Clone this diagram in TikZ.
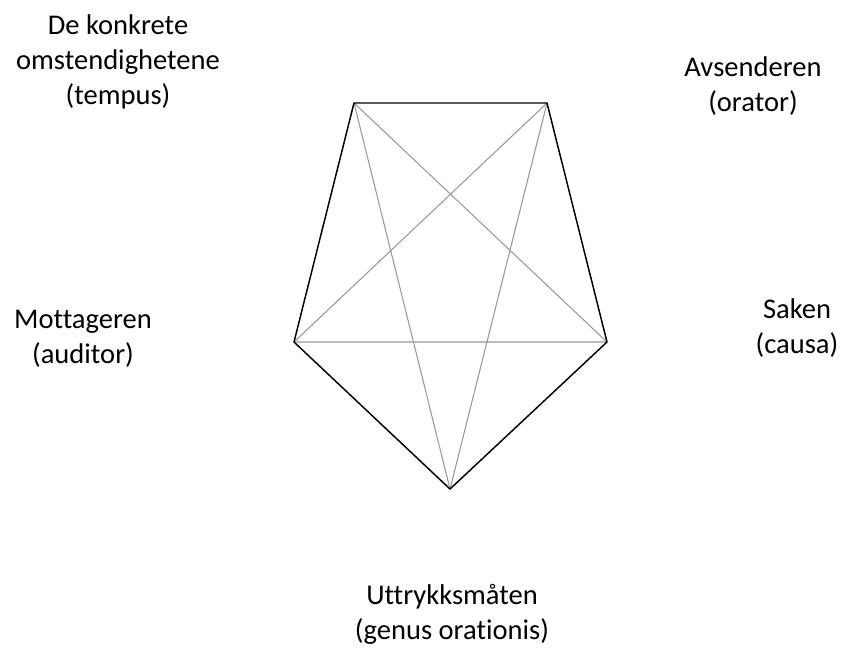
\documentclass[tikz,border=0pt]{standalone}
\usepackage{fontspec}
\setmainfont{Carlito}[Ligatures=NoCommon]
\usetikzlibrary{positioning}
\definecolor{diag}{HTML}{9A9A9A}
\tikzset{
  lbl/.style={align=center,inner sep=0pt,font=\fontsize{21.4pt}{26.3pt}\selectfont},
  rim/.style={black,line width=1.1pt,line join=round},
  cross/.style={diag,line width=0.8pt}
}

\begin{document}
\begin{tikzpicture}[x=0.75pt,y=-0.75pt]
\useasboundingbox (0,0) rectangle (845,647);
% corners of the pentagon
\coordinate (tl) at (354,103);
\coordinate (tr) at (547,103);
\coordinate (rt) at (607,342);
\coordinate (bt) at (450,489);
\coordinate (lt) at (294,342);
% labels
\node[lbl] (tempus) at (118,62){De konkrete\\omstendighetene\\(tempus)};
\node[lbl] (orator) at (753,86){Avsenderen\\(orator)};
\node[lbl] (causa) at (797,328){Saken\\(causa)};
\node[lbl] (auditor) at (83,339){Mottageren\\(auditor)};
\node[lbl] (genus) at (452,614){Uttrykksmåten\\(genus orationis)};
% diagonals
\draw[cross] (tl)--(rt) (tl)--(bt) (tr)--(lt) (tr)--(bt) (lt)--(rt);
% outline
\draw[rim] (tl)--(tr)--(rt)--(bt)--(lt)--cycle;
\end{tikzpicture}
\end{document}
